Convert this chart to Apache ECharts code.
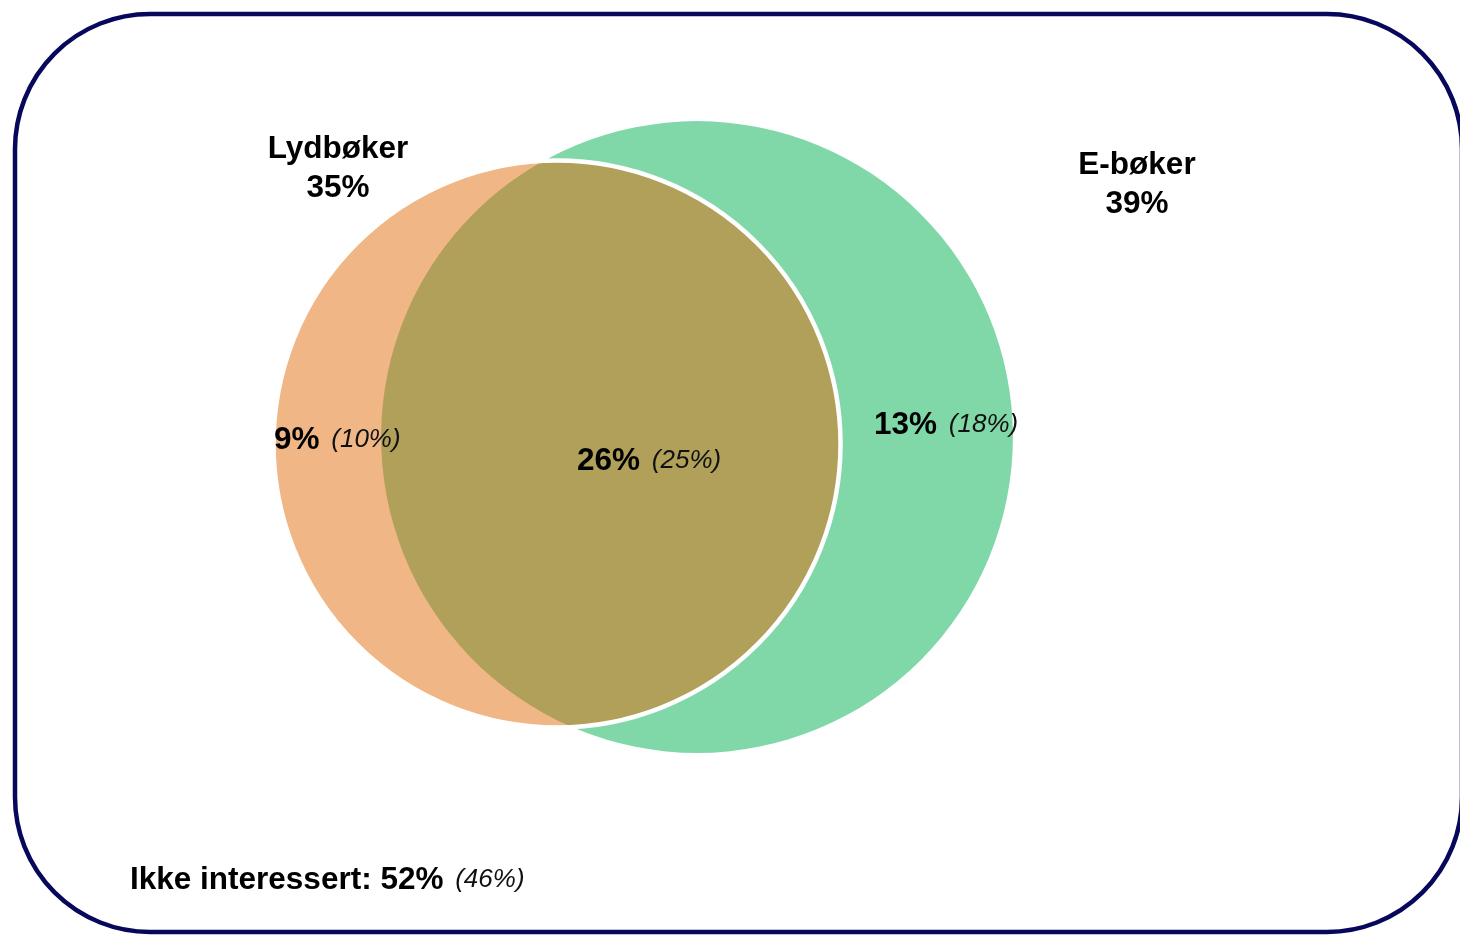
<!DOCTYPE html>
<html>
<head>
<meta charset="utf-8">
<title>Lydbøker og e-bøker</title>
<script src="https://cdn.jsdelivr.net/npm/echarts@6/dist/echarts.min.js"></script>
<style>
  html, body { margin: 0; padding: 0; background: #fff; }
  #chart { width: 1460px; height: 935px; }
</style>
</head>
<body>
<div id="chart"></div>
<script>
// data (andel i prosent, tall i parentes = forrige måling)
const setNames = ['Lydbøker', 'E-bøker'];
const setShares = [35, 39];
const regionNames = ['Kun lydbøker', 'Begge', 'Kun e-bøker'];
const regionShares = [9, 26, 13];
const regionSharesPrev = [10, 25, 18];
const noneLabel = 'Ikke interessert';
const noneShare = 52;
const noneSharePrev = 46;

// layout: 1 prosentpoeng radius = 8.1 px, sentrum i akseenheter
const PX = 8.1;
const W = 1460, H = 935;
const circleCentres = [[68.77, 60.62], [86.05, 61.48]];
const setColors = ['#F0B685', '#80D8A8'];
const overlapColor = '#B1A05A';
const font = "'Liberation Sans', Arial, sans-serif";

const rich = {
  b: { fontFamily: font, fontWeight: 'bold', fontSize: 31.5, fill: '#000', color: '#000' },
  i: { fontFamily: font, fontStyle: 'italic', fontSize: 26, fill: '#111', color: '#111', padding: [0, 0, 0, 3] }
};

function textEl(x, y, text, align) {
  return {
    type: 'text',
    x: x,
    y: y,
    z: 10,
    style: {
      text: text,
      rich: rich,
      font: 'bold 31.5px ' + font,
      fill: '#000',
      align: align,
      textAlign: align,
      verticalAlign: 'middle',
      textVerticalAlign: 'middle',
      lineHeight: 39
    }
  };
}

const chart = echarts.init(document.getElementById('chart'));

// rekkefølge: e-bøker under, lydbøker over
const drawOrder = [1, 0];
const circleData = drawOrder.map(i => [circleCentres[i][0], circleCentres[i][1], setShares[i], i]);

function circlePx(api, i) {
  const c = api.coord(circleCentres[i]);
  const s = api.size([setShares[i], setShares[i]]);
  return { x: c[0], y: c[1], r: s[0] };
}

const option = {
  animation: false,
  grid: { left: 0, right: 0, top: 0, bottom: 0 },
  xAxis: { type: 'value', min: 0, max: W / PX, show: false },
  yAxis: { type: 'value', min: 0, max: H / PX, show: false },
  graphic: [
    {
      type: 'rect',
      shape: { x: 15, y: 14, width: 1447, height: 918, r: 135 },
      style: { fill: 'none', stroke: '#07075C', lineWidth: 4.5 }
    },
    textEl(338, 169, '{b|' + setNames[0] + '}\n{b|' + setShares[0] + '%}', 'center'),
    textEl(1137, 185, '{b|' + setNames[1] + '}\n{b|' + setShares[1] + '%}', 'center'),
    textEl(274, 440, '{b|' + regionShares[0] + '%} {i|(' + regionSharesPrev[0] + '%)}', 'left'),
    textEl(577, 461, '{b|' + regionShares[1] + '%} {i|(' + regionSharesPrev[1] + '%)}', 'left'),
    textEl(874, 425, '{b|' + regionShares[2] + '%} {i|(' + regionSharesPrev[2] + '%)}', 'left'),
    textEl(130, 880, '{b|' + noneLabel + ': ' + noneShare + '%} {i|(' + noneSharePrev + '%)}', 'left')
  ],
  series: [
    {
      name: 'sett',
      type: 'custom',
      coordinateSystem: 'cartesian2d',
      data: circleData,
      renderItem: function (params, api) {
        const c = api.coord([api.value(0), api.value(1)]);
        const s = api.size([api.value(2), api.value(2)]);
        return {
          type: 'circle',
          shape: { cx: c[0], cy: c[1], r: s[0] },
          style: { fill: setColors[api.value(3)] }
        };
      }
    },
    {
      name: regionNames[1],
      type: 'custom',
      coordinateSystem: 'cartesian2d',
      data: [[circleCentres[0][0], circleCentres[0][1]]],
      renderItem: function (params, api) {
        const A = circlePx(api, 0);
        const B = circlePx(api, 1);
        const dx = B.x - A.x, dy = B.y - A.y;
        const d = Math.sqrt(dx * dx + dy * dy);
        const a = (A.r * A.r - B.r * B.r + d * d) / (2 * d);
        const h = Math.sqrt(A.r * A.r - a * a);
        const mx = A.x + a * dx / d, my = A.y + a * dy / d;
        let p1 = [mx - h * dy / d, my + h * dx / d];
        let p2 = [mx + h * dy / d, my - h * dx / d];
        if (p1[1] > p2[1]) { const t = p1; p1 = p2; p2 = t; }
        const largeA = a < 0 ? 1 : 0;
        const largeB = (d - a) < 0 ? 1 : 0;
        const path = 'M' + p1[0] + ',' + p1[1] +
          ' A' + A.r + ',' + A.r + ' 0 ' + largeA + ' 1 ' + p2[0] + ',' + p2[1] +
          ' A' + B.r + ',' + B.r + ' 0 ' + largeB + ' 1 ' + p1[0] + ',' + p1[1] + ' Z';
        return {
          type: 'group',
          children: [
            {
              type: 'path',
              shape: { pathData: path },
              style: { fill: overlapColor }
            },
            {
              type: 'circle',
              shape: { cx: A.x, cy: A.y, r: A.r },
              style: { fill: 'none', stroke: '#fff', lineWidth: 4.5 }
            }
          ]
        };
      }
    }
  ]
};

chart.setOption(option);
</script>
</body>
</html>
